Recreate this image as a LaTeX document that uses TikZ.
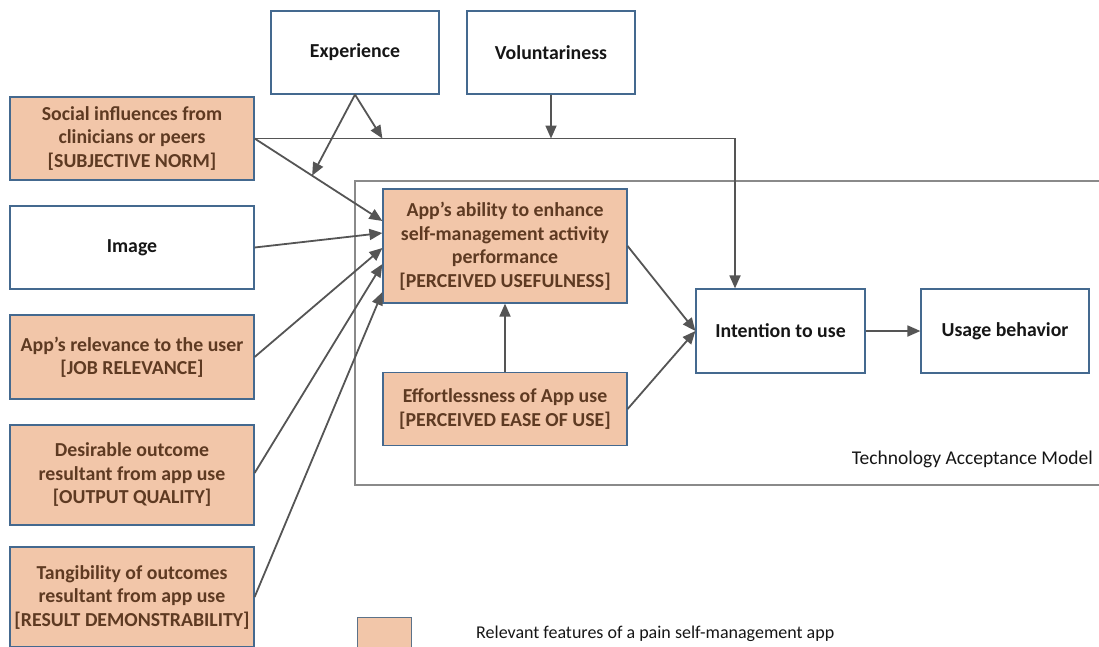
\documentclass[tikz,border=0pt]{standalone}
\usepackage{fontspec}
\setmainfont{Carlito}
\usetikzlibrary{arrows.meta,calc}
\definecolor{featfill}{HTML}{F2C6A9}
\definecolor{boxedge}{HTML}{44698F}
\definecolor{feattext}{HTML}{5E3A22}
\definecolor{plaintext}{HTML}{161616}
\definecolor{arrowgray}{HTML}{555555}
\definecolor{frame}{HTML}{8A8A8A}
\tikzset{
  box/.style={draw=boxedge, line width=1.2pt, fill=white, align=center,
    inner sep=0pt, font=\bfseries\fontsize{19.8}{23.5}\selectfont, text=plaintext},
  feat/.style={box, fill=featfill, text=feattext},
  link/.style={draw=arrowgray, line width=1.8pt},
  arr/.style={link, -{Triangle[length=13pt,width=11pt]}},
  plainlabel/.style={font=\fontsize{18}{22}\selectfont, text=plaintext, inner sep=0pt}
}
\begin{document}
\begin{tikzpicture}[x=1pt,y=-1pt]
\useasboundingbox (0,0) rectangle (1099,646);

% Technology Acceptance Model frame
\draw[frame, line width=1.6pt, fill=white] (355,181) rectangle (1112,485);

% Moderators
\node[box, minimum width=168pt, minimum height=83pt] (exp) at (355,52.5) {Experience};
\node[box, minimum width=168pt, minimum height=83pt] (vol) at (551,52.5) {Voluntariness};

% External determinants
\node[feat, minimum width=244pt, minimum height=83pt] (sn) at (132,138.5)
  {Social influences from\\clinicians or peers\\{[}SUBJECTIVE NORM{]}};
\node[box, minimum width=244pt, minimum height=83pt] (img) at (132,247.5) {Image};
\node[feat, minimum width=244pt, minimum height=84pt] (jr) at (132,357)
  {App’s relevance to the user\\{[}JOB RELEVANCE{]}};
\node[feat, minimum width=244pt, minimum height=100pt] (oq) at (132,475)
  {Desirable outcome\\resultant from app use\\{[}OUTPUT QUALITY{]}};
\node[feat, minimum width=244pt, minimum height=100pt] (rd) at (132,597)
  {Tangibility of outcomes\\resultant from app use\\{[}RESULT DEMONSTRABILITY{]}};

% TAM core
\node[feat, minimum width=244pt, minimum height=114pt] (pu) at (505,246)
  {App’s ability to enhance\\self-management activity\\performance\\{[}PERCEIVED USEFULNESS{]}};
\node[feat, minimum width=244pt, minimum height=73pt] (peou) at (505,409)
  {Effortlessness of App use\\{[}PERCEIVED EASE OF USE{]}};
\node[box, minimum width=169pt, minimum height=84pt] (iu) at (780.5,331) {Intention to use};
\node[box, minimum width=168pt, minimum height=84pt] (ub) at (1005,331) {Usage behavior};

\node[plainlabel, font=\fontsize{19.5}{22}\selectfont, anchor=east] (tamlabel) at (1093,459) {Technology Acceptance Model};

% Entry points on the usefulness box
\coordinate (puA) at ([yshift=25pt]pu.west);
\coordinate (puB) at ([yshift=13pt]pu.west);
\coordinate (puC) at ([yshift=-2pt]pu.west);
\coordinate (puD) at ([yshift=-18pt]pu.west);
\coordinate (puE) at ([yshift=-46pt]pu.west);

% Moderated paths
\coordinate (m1) at ($(sn.east)!0.45!(puA)$);
\coordinate (m2) at (sn.east -| pu.west);
\coordinate (m3) at (sn.east -| vol.south);

\draw[arr] (sn.east) -- (puA);
\draw[arr] (sn.east) -| ([xshift=-45.5pt]iu.north);
\draw[arr] (exp.south) -- (m1);
\draw[arr] (exp.south) -- (m2);
\draw[arr] (vol.south) -- (m3);

\draw[arr] (img.east) -- (puB);
\draw[arr] (jr.east) -- (puC);
\draw[arr] ([yshift=2pt]oq.east) -- (puD);
\draw[arr] (rd.east) -- (puE);

\draw[arr] (peou.north) -- (pu.south);
\draw[arr] (pu.east) -- (iu.west);
\draw[arr] (peou.east) -- (iu.west);
\draw[arr] (iu.east) -- (ub.west);

% Legend
\node[draw=boxedge!60!gray, line width=0.8pt, fill=featfill, minimum width=54pt,
  minimum height=44pt, inner sep=0pt] (key) at (384,639) {};
\node[plainlabel, anchor=west] (keytext) at (476,634) {Relevant features of a pain self-management app};
\end{tikzpicture}
\end{document}
